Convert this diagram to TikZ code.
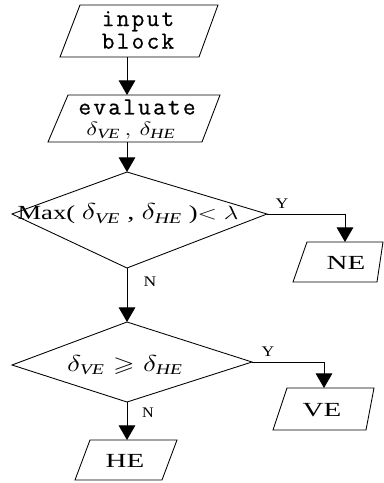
\documentclass[tikz,border=0pt]{standalone}
\usepackage{fontspec}
\usepackage{amssymb}
\usepackage{graphicx}
\setmainfont{Liberation Serif}
\newfontfamily\monof[LetterSpace=9,FakeBold=0.6]{Latin Modern Mono}
\usetikzlibrary{arrows.meta}
\newcommand{\widetxt}[1]{\scalebox{1.45}[1]{#1}}
\newcommand{\dve}{\delta_{\mathit{VE}}}
\newcommand{\dhe}{\delta_{\mathit{HE}}}
\begin{document}
\begin{tikzpicture}[x=0.75pt,y=-0.75pt,
  box/.style={draw=black,line width=0.65pt,line join=miter},
  conn/.style={draw=black,line width=0.65pt},
  arr/.style={conn,-{Triangle[width=12.5pt,length=11pt]}},
  monotxt/.style={font=\monof\fontsize{18.5pt}{17pt}\selectfont,align=center,inner sep=0pt},
  sertxt/.style={font=\fontsize{15pt}{18pt}\selectfont,inner sep=0pt},
  yn/.style={font=\fontsize{11pt}{13pt}\selectfont,inner sep=0pt}]
\useasboundingbox (0,0) rectangle (384,483);
% input block
\coordinate (ibtl) at (80,5); \coordinate (ibtr) at (218,5);
\coordinate (ibbr) at (199,57); \coordinate (ibbl) at (60,57);
\coordinate (ibb) at (127,57);
\path[box] (ibtl) -- (ibtr) -- (ibbr) -- (ibbl) -- cycle;
\node[monotxt] (ib) at (138,30) {input\\block};
% evaluate
\coordinate (evtl) at (68,95); \coordinate (evtr) at (220,95);
\coordinate (evbr) at (202,142); \coordinate (evbl) at (48,142);
\coordinate (evt) at (127,95); \coordinate (evb) at (127,142);
\path[box] (evtl) -- (evtr) -- (evbr) -- (evbl) -- cycle;
\node[monotxt] (ev) at (137,107) {evaluate};
\node[sertxt] (evd) at (131,131) {\scalebox{1.3}[1]{\fontsize{15pt}{18pt}\selectfont$\dve\,,\,\dhe$}};
% diamond 1
\coordinate (d1t) at (127,172); \coordinate (d1l) at (12,214);
\coordinate (d1r) at (267,214); \coordinate (d1b) at (127,268);
\path[box] (d1t) -- (d1r) -- (d1b) -- (d1l) -- cycle;
\node[sertxt] (d1) at (128,214) {\scalebox{1.33}[1]{Max( {\fontsize{16pt}{18pt}\selectfont$\dve$ , $\dhe$} )$<$ $\lambda$}};
% NE
\coordinate (c1) at (345,214);
\coordinate (netl) at (307,242); \coordinate (netr) at (383,242);
\coordinate (nebr) at (377,282); \coordinate (nebl) at (293,282);
\coordinate (net) at (345,242);
\path[box] (netl) -- (netr) -- (nebr) -- (nebl) -- cycle;
\node[sertxt] (ne) at (346,263) {\widetxt{NE}};
% diamond 2
\coordinate (d2t) at (127,322); \coordinate (d2l) at (12,365);
\coordinate (d2r) at (252,362); \coordinate (d2b) at (127,402);
\path[box] (d2t) -- (d2r) -- (d2b) -- (d2l) -- cycle;
\node[sertxt] (d2) at (125,365) {\scalebox{1.3}[1]{\fontsize{16pt}{18pt}\selectfont$\dve\geqslant\dhe$}};
% VE
\coordinate (c2) at (324,362);
\coordinate (vetl) at (287,388); \coordinate (vetr) at (374,388);
\coordinate (vebr) at (366,430); \coordinate (vebl) at (273,430);
\coordinate (vet) at (324,388);
\path[box] (vetl) -- (vetr) -- (vebr) -- (vebl) -- cycle;
\node[sertxt] (ve) at (322,410) {\widetxt{VE}};
% HE
\coordinate (hetl) at (90,440); \coordinate (hetr) at (177,440);
\coordinate (hebr) at (162,480); \coordinate (hebl) at (75,480);
\coordinate (het) at (127,440);
\path[box] (hetl) -- (hetr) -- (hebr) -- (hebl) -- cycle;
\node[sertxt] (he) at (125,461) {\widetxt{HE}};
% connectors
\draw[arr] (ibb) -- (evt);
\draw[arr] (evb) -- (d1t);
\draw[arr] (d1r) -- (c1) -- (net);
\draw[arr] (d1b) -- (d2t);
\draw[arr] (d2r) -- (c2) -- (vet);
\draw[arr] (d2b) -- (het);
% labels
\node[yn] (y1) at (282,204) {\scalebox{1.2}[1]{Y}};
\node[yn] (n1) at (150,282) {\scalebox{1.2}[1]{N}};
\node[yn] (y2) at (268,352) {\scalebox{1.2}[1]{Y}};
\node[yn] (n2) at (148,413) {\scalebox{1.1}[1]{N}};
\end{tikzpicture}
\end{document}
